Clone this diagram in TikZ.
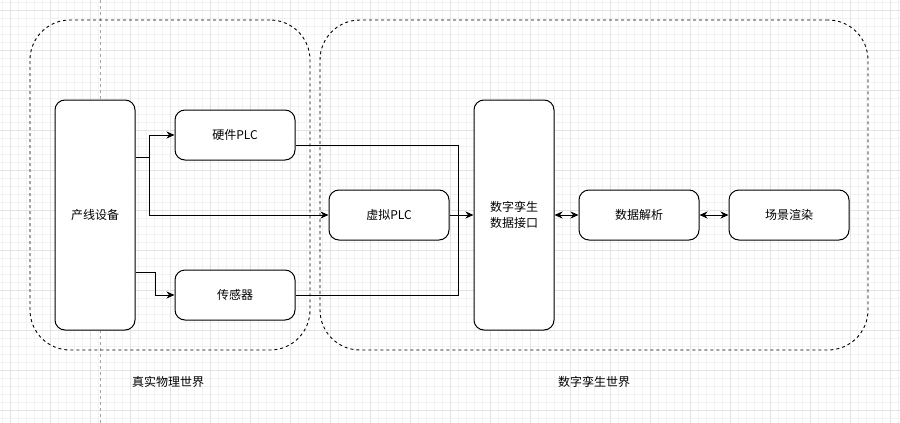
\documentclass[tikz,border=0pt]{standalone}
\usepackage{fontspec}
\setmainfont{Noto Sans CJK SC}
\usetikzlibrary{arrows.meta}
\begin{document}
\begin{tikzpicture}[x=1pt,y=-1pt,
  minorgrid/.style={draw=black!5,line width=0.8pt},
  majorgrid/.style={draw=black!11,line width=0.8pt},
  box/.style={draw=black,line width=1pt,rounded corners=10pt,fill=white,
    font=\fontsize{12}{16}\selectfont,align=center,inner sep=0pt},
  group/.style={draw=black,line width=0.9pt,dash pattern=on 3pt off 3pt,rounded corners=40pt},
  conn/.style={draw=black,line width=1pt,-{Stealth[length=8pt,width=7pt,inset=2.5pt]}},
  biconn/.style={draw=black,line width=1pt,{Stealth[length=8pt,width=7pt,inset=2.5pt]}-{Stealth[length=8pt,width=7pt,inset=2.5pt]}},
  caption/.style={font=\fontsize{12}{16}\selectfont,inner sep=0pt}]
\useasboundingbox (0,0) rectangle (900,423);
\fill[white] (0,0) rectangle (900,423);
% grid
\foreach \i in {2,10,...,898} {\draw[minorgrid] (\i,0) -- (\i,423);}
\foreach \j in {2,10,...,422} {\draw[minorgrid] (0,\j) -- (900,\j);}
\foreach \i in {10,50,...,890} {\draw[majorgrid] (\i,0) -- (\i,423);}
\foreach \j in {10,50,...,410} {\draw[majorgrid] (0,\j) -- (900,\j);}
% guide line
\draw[black!35,line width=0.8pt,dash pattern=on 3pt off 3pt] (100,0) -- (100,423);
% groups
\node[group,minimum width=280pt,minimum height=330pt,inner sep=0pt] (real) at (170,185) {};
\node[group,minimum width=548pt,minimum height=330pt,inner sep=0pt] (twin) at (594,185) {};
% nodes
\node[box,minimum width=80pt,minimum height=230pt] (dev) at (95,215) {产线设备};
\node[box,minimum width=120pt,minimum height=50pt] (hw) at (235,135) {硬件PLC};
\node[box,minimum width=120pt,minimum height=50pt] (sen) at (235,295) {传感器};
\node[box,minimum width=120pt,minimum height=50pt] (vplc) at (389,215) {虚拟PLC};
\node[box,minimum width=80pt,minimum height=230pt] (dti) at (514,215) {数字孪生\\数据接口};
\node[box,minimum width=120pt,minimum height=50pt] (parse) at (639,215) {数据解析};
\node[box,minimum width=120pt,minimum height=50pt] (render) at (789,215) {场景渲染};
% captions
\node[caption] (cap1) at (168,382) {真实物理世界};
\node[caption] (cap2) at (594,382) {数字孪生世界};
% connectors
\draw[conn] ([yshift=58pt]dev.east) -- ++(14,0) |- (hw.west);
\draw[conn] ([yshift=58pt]dev.east) -- ++(14,0) |- (vplc.west);
\draw[conn] ([yshift=-57pt]dev.east) -- ++(20,0) |- (sen.west);
\draw[line width=1pt] ([yshift=-10pt]hw.east) -| ([xshift=-15pt]dti.west);
\draw[line width=1pt] (sen.east) -| ([xshift=-15pt]dti.west);
\draw[conn] (vplc.east) -- (dti.west);
\draw[biconn] (dti.east) -- (parse.west);
\draw[biconn] (parse.east) -- (render.west);
\end{tikzpicture}
\end{document}
